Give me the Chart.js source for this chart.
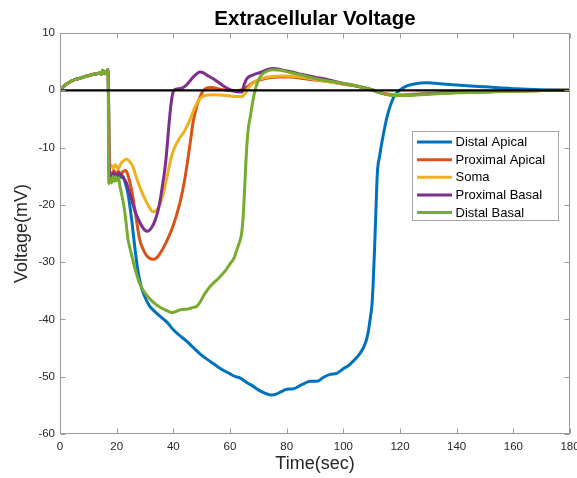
<!DOCTYPE html>
<html>
<head>
<meta charset="utf-8">
<script src="https://cdn.jsdelivr.net/npm/chart.js@4/dist/chart.umd.min.js"></script>
<style>
  html, body { margin: 0; padding: 0; background: #ffffff; }
  canvas { display: block; }
</style>
</head>
<body>
<canvas id="chart" width="577" height="478"></canvas>
<script>
// Shared charging ramp before the stimulus (all compartments overlap here)
const rampTime = [0, 1, 2, 3, 4, 5.5, 7, 8.5, 10, 11.5, 13, 14, 14.6, 15.1, 15.6, 16.1, 16.5, 16.8, 17.0];
const rampVolt = [0, 0.5, 1.0, 1.3, 1.6, 1.9, 2.1, 2.35, 2.55, 2.75, 2.9, 3.0, 2.8, 3.5, 2.9, 3.3, 3.0, 3.6, 3.0];

// Distal Apical
const distalApicalTime = [17.4, 18.2, 19, 19.8, 20.6, 21.4, 22.2, 22.8, 24, 25.2, 26.4, 27.5, 28.5, 29.9, 31.5, 33.4, 36.4, 38,
  40, 42.5, 44.7, 47, 49.4, 51.5, 54.1, 57, 60, 62, 63.5, 65.9, 68, 70, 72.5, 74.7, 76.5, 78.5, 80, 82.4,
  84.5, 86.5, 88.3, 90.7, 93, 95.4, 97.7, 100, 102, 103.6, 105.5, 107.1, 108.2, 108.9, 109.6, 110.1, 110.5, 111, 111.5, 112,
  112.8, 113.8, 115.4, 117.8, 121.3, 125, 129.6, 135, 143.7, 150, 161.4, 170, 180];
const distalApicalVolt = [-14.2, -14.9, -14.3, -15.0, -14.5, -15.2, -15.0, -15.8, -18.1, -22.2, -27.4, -31.5, -34, -36, -37.6, -38.6, -39.9, -40.6,
  -41.8, -42.9, -43.8, -44.9, -46.0, -46.8, -47.7, -48.7, -49.5, -50.0, -50.2, -51.0, -51.6, -52.3, -52.9, -53.2, -53.0, -52.5, -52.2, -52.1,
  -51.6, -51.1, -50.8, -50.8, -50.1, -49.6, -49.4, -48.6, -48.0, -47.2, -46.2, -44.9, -43.5, -41.9, -39.5, -37.5, -34, -28, -21, -14.5,
  -11.5, -8.6, -4.7, -1.2, 0.5, 1.1, 1.3, 1.1, 0.8, 0.6, 0.25, 0.1, 0.0];

// Proximal Apical
const proximalApicalTime = [17.4, 18.2, 19, 19.8, 20.6, 21.4, 22.2, 23.2, 24.2, 25.2, 26.1, 27, 28.1, 29.3, 30.5, 31.6, 32.8,
  34, 35.8, 37.5, 39.5, 41, 42.5, 43.8, 45, 46, 47, 48.2, 49.4, 50.5, 51.7, 53, 54.5, 56.5, 58.8, 61, 63.5,
  64.8, 66, 68, 70.6, 74, 77.7, 81, 85, 90, 95, 100, 105, 110, 113, 116, 120, 125, 130, 140, 150, 160, 170, 180];
const proximalApicalVolt = [-14.0, -14.6, -14.0, -14.7, -14.1, -14.8, -14.2, -14.0, -15.2, -17.2, -19.8, -22.7, -26.0, -27.7, -28.8, -29.3, -29.5,
  -29.3, -28.1, -26.5, -24.2, -22.0, -19.3, -16.2, -12.5, -9.0, -5.5, -2.9, -1.2, -0.1, 0.4, 0.5, 0.4, 0.2, 0.0, -0.1, 0.0,
  0.2, 0.6, 1.3, 1.8, 2.2, 2.3, 2.3, 2.1, 1.8, 1.5, 1.1, 0.7, 0.1, -0.4, -0.7, -0.8, -0.7, -0.6, -0.4, -0.25, -0.1, -0.05, 0.0];

// Soma
const somaTime = [17.4, 18, 18.7, 19.5, 20.5, 21.5, 22.5, 23.4, 24.5, 25.7, 27, 28.5, 30, 31.5, 32.8, 34, 35.2, 36.5, 37.6, 38.5,
  39.5, 40.5, 42.3, 44.1, 46, 47.6, 49.4, 51, 54, 58.8, 62, 64, 65.3, 66.5, 68.2, 71, 75, 79, 85, 90,
  95, 100, 105, 110, 113, 116, 120, 130, 140, 150, 160, 170, 180];
const somaVolt = [-13.5, -13.0, -13.6, -13.0, -13.7, -12.8, -12.3, -12.0, -12.4, -13.3, -15.3, -17.3, -19.0, -20.4, -21.2, -21.0, -20.0, -18.0, -15.5, -13.4,
  -11.3, -9.9, -8.3, -7.0, -5.0, -3.0, -1.5, -0.9, -0.8, -0.9, -1.1, -1.1, -0.6, 0.4, 1.3, 2.0, 2.4, 2.5, 2.3, 1.9,
  1.5, 1.1, 0.7, 0.1, -0.4, -0.7, -0.8, -0.6, -0.4, -0.25, -0.1, -0.05, 0.0];

// Proximal Basal
const proximalBasalTime = [17.4, 18.2, 19, 19.8, 20.6, 21.6, 22.5, 23.3, 24, 25, 26.4, 28.1, 29.9, 31, 32.3, 33.5, 34.5, 35.2, 36.2, 37,
  37.6, 38.2, 38.7, 39.3, 40, 41, 42.5, 43.5, 44.8, 45.8, 47, 48.3, 49.4, 50.5, 52, 54.1, 57, 60, 62, 64.2,
  65, 65.9, 68.2, 70.6, 73, 75.3, 78, 82, 85, 90, 95, 100, 105, 110, 113, 116, 120, 130, 140, 150, 160, 170, 180];
const proximalBasalVolt = [-14.5, -15.0, -14.4, -15.2, -14.5, -14.8, -15.4, -16.0, -17.0, -18.6, -21.0, -23.0, -24.4, -24.6, -24.0, -22.8, -21.2, -19.6, -16.5, -13.8,
  -11.0, -7.5, -4.7, -2.0, -0.2, 0.2, 0.3, 0.5, 1.0, 1.6, 2.3, 2.9, 3.2, 3.1, 2.6, 2.0, 1.0, 0.1, -0.2, -0.3,
  1.0, 2.0, 2.7, 3.1, 3.6, 3.8, 3.6, 3.2, 2.8, 2.3, 1.8, 1.2, 0.7, 0.1, -0.4, -0.8, -0.9, -0.6, -0.4, -0.25, -0.1, -0.05, 0.0];

// Distal Basal
const distalBasalTime = [17.2, 17.7, 18.2, 18.7, 19.2, 19.7, 20.2, 20.7, 21.1, 21.6, 22.2, 22.8, 23.4, 24, 24.6, 25.2, 26.4, 28, 30, 32.5,
  35, 37.5, 39.5, 41, 42.5, 45, 47, 48.3, 49.4, 51, 52.9, 54.7, 56.4, 58.5, 60, 61.5, 62.3, 63.3, 64.1, 64.7,
  65.3, 65.9, 66.5, 67.2, 68.2, 69, 70.6, 72.5, 75, 78, 81.2, 85, 89.5, 95, 99, 105, 110, 112, 115, 118,
  122, 130, 140, 150, 160, 170, 180];
const distalBasalVolt = [-16.3, -15.4, -16.2, -15.0, -15.9, -15.1, -15.8, -15.3, -16.6, -17.8, -19.2, -21.0, -23.5, -26.0, -27.4, -28.6, -31.0, -33.6, -35.4, -36.8,
  -37.8, -38.4, -38.8, -38.6, -38.3, -38.2, -37.9, -37.7, -37.0, -35.6, -34.3, -33.4, -32.6, -31.4, -30.3, -29.2, -28.0, -26.6, -25.0, -21.6,
  -15.8, -10.0, -6.5, -4.5, -1.5, 0.3, 2.3, 3.2, 3.6, 3.5, 3.1, 2.7, 2.1, 1.6, 1.3, 0.7, 0.1, -0.3, -0.7, -0.9,
  -0.9, -0.7, -0.45, -0.3, -0.15, -0.05, 0.0];

const seriesNames = ['Distal Apical', 'Proximal Apical', 'Soma', 'Proximal Basal', 'Distal Basal'];
const seriesColors = ['#0072BD', '#D95319', '#EDB120', '#7E2F8E', '#77AC30'];
const seriesTimes = [distalApicalTime, proximalApicalTime, somaTime, proximalBasalTime, distalBasalTime];
const seriesVolts = [distalApicalVolt, proximalApicalVolt, somaVolt, proximalBasalVolt, distalBasalVolt];

const xTicks = [0, 20, 40, 60, 80, 100, 120, 140, 160, 180];
const yTicks = [-60, -50, -40, -30, -20, -10, 0, 10];

const FONT = '"Liberation Sans", Arial, Helvetica, sans-serif';
const TEXT = '#262626';
const AXIS = '#9a9a9a';

function toPoints(t, v) {
  const pts = rampTime.map((x, i) => ({ x, y: rampVolt[i] }));
  t.forEach((x, i) => pts.push({ x, y: v[i] }));
  return pts;
}

const datasets = seriesNames.map((name, i) => ({
  label: name,
  data: toPoints(seriesTimes[i], seriesVolts[i]),
  borderColor: seriesColors[i],
  backgroundColor: seriesColors[i],
  borderWidth: 3,
  order: seriesNames.length - i
}));
// zero reference line, drawn on top of the traces
datasets.push({
  label: 'zero',
  data: [{ x: 0, y: 0 }, { x: 180, y: 0 }],
  borderColor: '#000000',
  borderWidth: 2.2,
  cubicInterpolationMode: 'default',
  tension: 0,
  order: 0
});

// Axes box, inward ticks, title and the boxed legend
const decorations = {
  id: 'decorations',
  afterDraw(chart) {
    const { ctx, chartArea: a, scales } = chart;
    ctx.save();
    ctx.strokeStyle = AXIS;
    ctx.lineWidth = 1;
    const L = Math.round(a.left) + 0.5, R = Math.round(a.right) - 0.5;
    const T = Math.round(a.top) + 0.5, B = Math.round(a.bottom) - 0.5;
    ctx.strokeRect(L, T, R - L, B - T);
    const tick = 5;
    ctx.beginPath();
    xTicks.forEach(v => {
      const px = Math.round(scales.x.getPixelForValue(v)) + 0.5;
      ctx.moveTo(px, B); ctx.lineTo(px, B - tick);
      ctx.moveTo(px, T); ctx.lineTo(px, T + tick);
    });
    yTicks.forEach(v => {
      const py = Math.round(scales.y.getPixelForValue(v)) + 0.5;
      ctx.moveTo(L, py); ctx.lineTo(L + tick, py);
      ctx.moveTo(R, py); ctx.lineTo(R - tick, py);
    });
    ctx.stroke();

    // title
    ctx.fillStyle = '#000000';
    ctx.font = 'bold 20.5px ' + FONT;
    ctx.textAlign = 'center';
    ctx.textBaseline = 'alphabetic';
    ctx.fillText('Extracellular Voltage', (a.left + a.right) / 2, 25);

    // legend
    const boxW = 146, boxH = 89;
    const bx = Math.round(a.right - 12 - boxW) + 0.5, by = Math.round(a.top + 98) + 0.5;
    ctx.fillStyle = '#ffffff';
    ctx.fillRect(bx, by, boxW, boxH);
    ctx.strokeStyle = '#a6a6a6';
    ctx.lineWidth = 1;
    ctx.strokeRect(bx, by, boxW, boxH);
    ctx.font = '13px ' + FONT;
    ctx.textAlign = 'left';
    ctx.textBaseline = 'middle';
    seriesNames.forEach((name, i) => {
      const y = by + 10.5 + i * 17.65;
      ctx.strokeStyle = seriesColors[i];
      ctx.lineWidth = 3;
      ctx.beginPath();
      ctx.moveTo(bx + 4.5, y);
      ctx.lineTo(bx + 39.5, y);
      ctx.stroke();
      ctx.fillStyle = '#000000';
      ctx.fillText(name, bx + 43, y + 0.5);
    });
    ctx.restore();
  }
};

Chart.defaults.font.family = FONT;

new Chart(document.getElementById('chart'), {
  type: 'line',
  data: { datasets },
  options: {
    responsive: false,
    animation: false,
    devicePixelRatio: 1,
    layout: { padding: { top: 33, right: 7, left: 0, bottom: 0 } },
    plugins: { legend: { display: false }, tooltip: { enabled: false } },
    elements: {
      point: { radius: 0, hoverRadius: 0 },
      line: { cubicInterpolationMode: 'monotone', fill: false }
    },
    scales: {
      x: {
        type: 'linear',
        min: 0, max: 180,
        afterBuildTicks: s => { s.ticks = xTicks.map(v => ({ value: v })); },
        ticks: { padding: 6, color: TEXT, font: { size: 11.5 }, maxRotation: 0, autoSkip: false },
        grid: { display: false, drawTicks: false },
        border: { display: false },
        title: { display: true, text: 'Time(sec)', color: TEXT, font: { size: 18 }, padding: { top: 0, bottom: 3 } },
        afterFit: s => { s.height = 44; s.paddingLeft = 0; s.paddingRight = 0; }
      },
      y: {
        type: 'linear',
        min: -60, max: 10,
        afterBuildTicks: s => { s.ticks = yTicks.map(v => ({ value: v })); },
        ticks: { padding: 5, color: TEXT, font: { size: 11.5 }, autoSkip: false },
        grid: { display: false, drawTicks: false },
        border: { display: false },
        title: { display: true, text: 'Voltage(mV)', color: TEXT, font: { size: 18 }, padding: { top: 11, bottom: 0 } },
        afterFit: s => { s.width = 60; s.paddingTop = 0; s.paddingBottom = 0; }
      }
    }
  },
  plugins: [decorations]
});
</script>
</body>
</html>
